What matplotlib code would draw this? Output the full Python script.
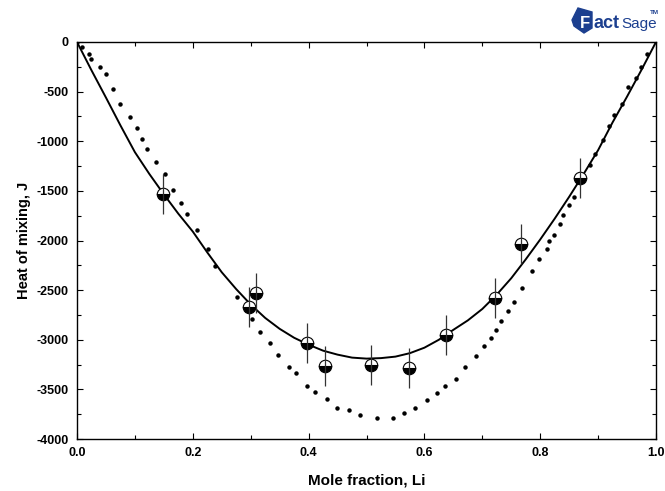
import matplotlib
matplotlib.use('Agg')
import matplotlib.pyplot as plt
from matplotlib.patches import Polygon
from matplotlib.ticker import MultipleLocator

plt.rcParams['font.family'] = ['Liberation Sans', 'DejaVu Sans']
plt.rcParams['font.weight'] = 'bold'
plt.rcParams['axes.unicode_minus'] = False

# optimized (solid) curve
fit_x = [0.0, 0.025, 0.05, 0.075, 0.10, 0.125, 0.15, 0.175, 0.20, 0.225, 0.25,
         0.275, 0.30, 0.325, 0.35, 0.375, 0.40, 0.425, 0.45, 0.475, 0.50,
         0.525, 0.55, 0.575, 0.60, 0.625, 0.65, 0.675, 0.70, 0.725, 0.75,
         0.775, 0.80, 0.825, 0.85, 0.875, 0.90, 0.925, 0.95, 0.975, 1.0]
fit_h = [0, -285, -560, -840, -1110, -1330, -1535, -1730, -1910, -2120, -2320,
         -2490, -2645, -2780, -2890, -2980, -3050, -3110, -3150, -3180, -3190,
         -3185, -3170, -3135, -3080, -3000, -2900, -2805, -2690, -2545, -2380,
         -2190, -1990, -1780, -1560, -1330, -1090, -810, -550, -280, 0]

# second model, drawn as dots
dot_x = [0.0, 0.009, 0.021, 0.024, 0.040, 0.050, 0.063, 0.075, 0.092, 0.104, 0.113,
         0.121, 0.136, 0.152, 0.165, 0.179, 0.190, 0.207, 0.226, 0.238, 0.277,
         0.303, 0.316, 0.333, 0.347, 0.366, 0.378, 0.397, 0.411, 0.431, 0.449,
         0.469, 0.489, 0.518, 0.545, 0.564, 0.584, 0.604, 0.622, 0.636, 0.654,
         0.670, 0.689, 0.703, 0.715, 0.724, 0.733, 0.745, 0.755, 0.768, 0.786,
         0.798, 0.811, 0.815, 0.824, 0.834, 0.839, 0.850, 0.859, 0.886, 0.895,
         0.908, 0.919, 0.928, 0.941, 0.952, 0.965, 0.974, 0.985]
dot_h = [0, -54, -125, -175, -256, -327, -478, -620, -754, -865, -973,
         -1077, -1209, -1327, -1495, -1623, -1731, -1899, -2084, -2253, -2572,
         -2791, -2926, -3037, -3152, -3270, -3338, -3465, -3522, -3599, -3684,
         -3711, -3761, -3785, -3785, -3734, -3684, -3610, -3539, -3465, -3391,
         -3279, -3162, -3061, -2986, -2899, -2815, -2707, -2623, -2482, -2303,
         -2185, -2084, -2007, -1943, -1832, -1747, -1646, -1562, -1242, -1131,
         -990, -845, -731, -620, -458, -367, -256, -125]

# measurements
exp_x = [0.149, 0.297, 0.309, 0.397, 0.428, 0.507, 0.574, 0.638, 0.722, 0.767, 0.868]
exp_h = [-1528, -2667, -2532, -3030, -3263, -3256, -3286, -2953, -2579, -2034, -1371]
exp_err = [200, 200, 200, 200, 200, 200, 200, 200, 200, 200, 200]

W, H = 665, 491
fig = plt.figure(figsize=(W / 100, H / 100), dpi=100)
ax = fig.add_axes([77 / W, 1 - 439 / H, 579 / W, 397 / H])

ax.plot(fit_x, fit_h, color='black', lw=1.4, zorder=3)
ax.plot(dot_x, dot_h, 'o', color='black', ms=2.2, zorder=3)
ax.plot(exp_x, exp_h, 'o', ms=9, fillstyle='bottom', markerfacecolor='black',
        markerfacecoloralt='white', markeredgecolor='black', mew=0.8,
        ls='none', zorder=5)
ax.errorbar(exp_x, exp_h, yerr=exp_err, fmt='none', ecolor='#333333',
            elinewidth=0.9, capsize=0, zorder=6)

ax.set_xlim(0, 1)
ax.set_ylim(-4000, 0)
ax.xaxis.set_major_locator(MultipleLocator(0.2))
ax.xaxis.set_minor_locator(MultipleLocator(0.1))
ax.yaxis.set_major_locator(MultipleLocator(500))
ax.yaxis.set_minor_locator(MultipleLocator(250))
ax.set_xticklabels([f'{v:.1f}' for v in ax.get_xticks()])
ax.tick_params(which='both', direction='in', top=True, right=True, width=0.8,
               labelsize=9)
ax.tick_params(which='major', length=4, pad=6)
ax.tick_params(which='minor', length=3)
for s in ax.spines.values():
    s.set_linewidth(1.0)

ax.set_xlabel('Mole fraction, Li', fontsize=11, fontweight='bold', labelpad=10)
ax.set_ylabel('Heat of mixing, J', fontsize=10.5, fontweight='bold', labelpad=4)


def px(x, y):
    return x / W, 1 - y / H


# FactSage logo
blue = '#1c3f8f'
icon = Polygon([px(572, 20), px(578, 8), px(592, 12), px(592, 28),
                px(584, 33), px(574, 26)], closed=True,
               transform=fig.transFigure, color=blue, zorder=1)
fig.patches.append(icon)
fig.text(*px(580, 28), 'F', color='white', fontsize=12, fontweight='bold',
         ha='left', va='baseline', zorder=2)
fig.text(*px(593, 28), 'act', color=blue, fontsize=13, fontweight='bold',
         ha='left', va='baseline', zorder=2)
fig.text(*px(621, 28), 'Sage', color=blue, fontsize=11, fontweight='normal',
         ha='left', va='baseline', zorder=2)
fig.text(*px(650, 14), 'TM', color=blue, fontsize=4.5, fontweight='bold',
         ha='left', va='baseline', zorder=2)

fig.savefig('out.png', dpi=100)
